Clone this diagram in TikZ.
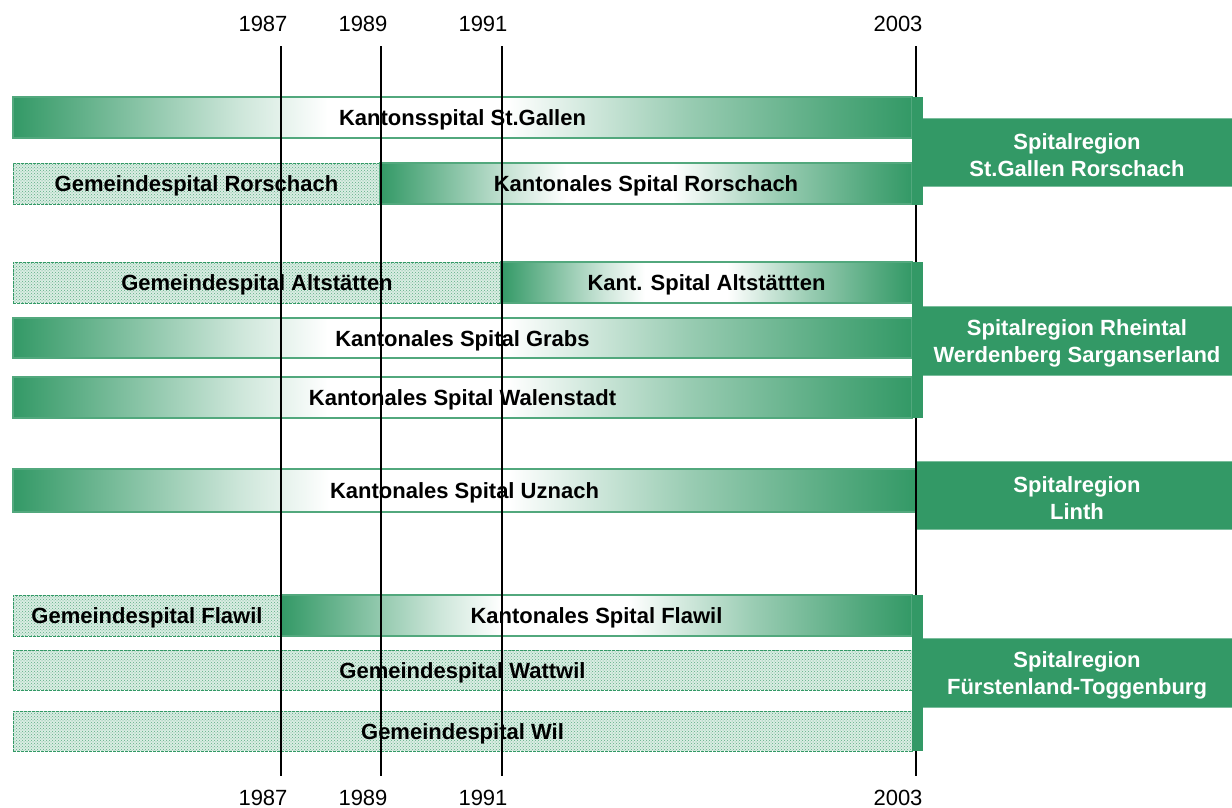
\documentclass[tikz,border=0pt]{standalone}
\usepackage{fontspec}
\setmainfont{Liberation Sans}
\usetikzlibrary{patterns}
\definecolor{sg}{HTML}{339966}
\colorlet{sgA}{sg!70!white}
\colorlet{sgC}{sg!25!white}
\colorlet{sgB}{sg!50!white}
\colorlet{sgD}{sg!85!white}
\colorlet{sgline}{sg!85!white}
\colorlet{dotbg}{sg!18!white}
\colorlet{dotfg}{sg!80!white}
\pgfdeclarehorizontalshading{barshade}{100bp}{color(0bp)=(sg); color(25bp)=(sg); color(30bp)=(sgA); color(37.5bp)=(sgC); color(42.5bp)=(white); color(52.5bp)=(white); color(62.5bp)=(sgB); color(71bp)=(sgD); color(75bp)=(sg); color(100bp)=(sg)}
\begin{document}
\begin{tikzpicture}[x=1pt,y=-1pt,
  lbl/.style={font=\fontsize{22}{27}\selectfont\bfseries},
  barbase/.style={lbl, rectangle, inner sep=0pt, text height=16pt, text depth=0pt, text=black},
  gbar/.style={barbase, draw=sgline, line width=1.2pt, shading=barshade},
  dbar/.style={barbase, draw=sg, line width=1pt, dash pattern=on 3pt off 1pt, preaction={fill=dotbg}, pattern=crosshatch dots, pattern color=dotfg},
  region/.style={lbl, rectangle, inner sep=0pt, fill=sg, draw=sg!65!white, line width=1pt, text=white, align=center},
  yr/.style={font=\fontsize{22}{26}\selectfont, inner sep=0pt},
  yline/.style={line width=1.3pt, black},
  strip/.style={fill=sg}
]
\useasboundingbox (0,0) rectangle (1232,808);

% region boxes
\node[region, minimum width=310pt, minimum height=68pt] (r1) at (1077,152) {};
\node[lbl, text=white, align=center] (r1t) at (1077,155) {Spitalregion\\St.Gallen Rorschach};
\node[region, minimum width=310pt, minimum height=69pt] (r2) at (1077,340.5) {};
\node[lbl, text=white, align=center] (r2t) at (1077,343) {Spitalregion Rheintal\\Werdenberg Sarganserland};
\node[region, minimum width=316pt, minimum height=68pt] (r3) at (1074,495) {};
\node[lbl, text=white, align=center] (r3t) at (1077,498) {Spitalregion\\Linth};
\node[region, minimum width=310pt, minimum height=69pt] (r4) at (1077,672.5) {};
\node[lbl, text=white, align=center] (r4t) at (1077,675) {Spitalregion\\Fürstenland-Toggenburg};

% bars
\node[gbar, minimum width=899pt, minimum height=41pt] (stg) at (462.5,117.5) {Kantonsspital St.Gallen};
\node[dbar, minimum width=367pt, minimum height=41pt] (gro) at (196.5,183.5) {Gemeindespital Rorschach};
\node[gbar, minimum width=532pt, minimum height=41pt] (kro) at (646,183.5) {Kantonales Spital Rorschach};
\node[dbar, minimum width=488pt, minimum height=41pt] (gal) at (257,282.5) {Gemeindespital Altstätten};
\node[gbar, minimum width=411pt, minimum height=41pt] (kal) at (706.5,282.5) {Kant. Spital Altstättten};
\node[gbar, minimum width=899pt, minimum height=40pt] (gra) at (462.5,338) {Kantonales Spital Grabs};
\node[gbar, minimum width=899pt, minimum height=41pt] (wal) at (462.5,397.5) {Kantonales Spital Walenstadt};
\node[gbar, minimum width=903pt, minimum height=43pt] (uzn) at (464.5,490.5) {Kantonales Spital Uznach};
\node[dbar, minimum width=268pt, minimum height=41pt] (gfl) at (147,615.5) {Gemeindespital Flawil};
\node[gbar, minimum width=631pt, minimum height=41pt] (kfl) at (596.5,615.5) {Kantonales Spital Flawil};
\node[dbar, minimum width=899pt, minimum height=40pt] (wat) at (462.5,670) {Gemeindespital Wattwil};
\node[dbar, minimum width=899pt, minimum height=40pt] (wil) at (462.5,731) {Gemeindespital Wil};

% year labels
\node[yr] (t87) at (263,23.5) {1987};
\node[yr] (t89) at (363,23.5) {1989};
\node[yr] (t91) at (483,23.5) {1991};
\node[yr] (t03) at (898,23.5) {2003};
\node[yr] (b87l) at (263,797.5) {1987};
\node[yr] (b89l) at (363,797.5) {1989};
\node[yr] (b91l) at (483,797.5) {1991};
\node[yr] (b03l) at (898,797.5) {2003};

% year lines
\coordinate (a87) at (281,46.5); \coordinate (z87) at (281,776);
\coordinate (a89) at (381,46.5); \coordinate (z89) at (381,776);
\coordinate (a91) at (502,46.5); \coordinate (z91) at (502,776);
\coordinate (a03) at (916,46.5); \coordinate (z03) at (916,776);
\draw[yline] (a87) -- (z87);
\draw[yline] (a89) -- (z89);
\draw[yline] (a91) -- (z91);
\draw[yline] (a03) -- (z03);

% connecting strips
\fill[strip] (912,96.5) rectangle (922.5,204.5);
\fill[strip] (912,261.5) rectangle (922.5,418);
\fill[strip] (912,594.5) rectangle (922.5,751);
\end{tikzpicture}
\end{document}
